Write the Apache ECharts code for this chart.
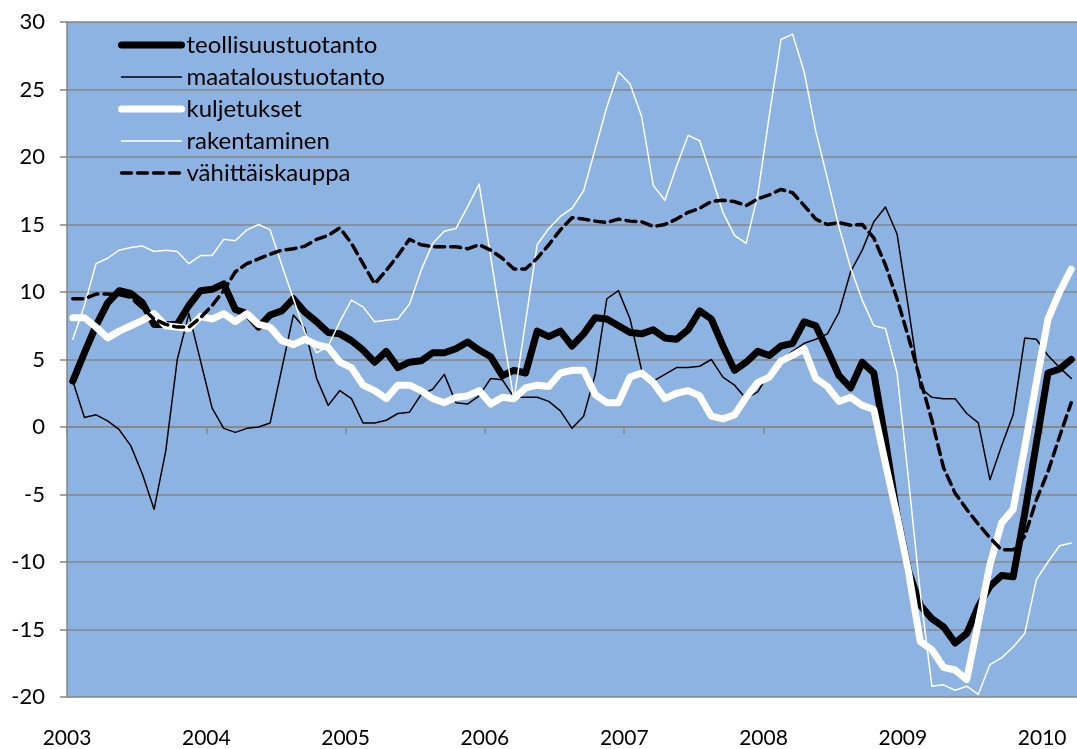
<!DOCTYPE html>
<html>
<head>
<meta charset="utf-8">
<script src="https://cdn.jsdelivr.net/npm/echarts@6/dist/echarts.min.js"></script>
<style>
  html, body { margin: 0; padding: 0; background: #fff; }
  #chart { width: 1077px; height: 749px; }
</style>
</head>
<body>
<div id="chart"></div>
<script>
// monthly series, Jan 2003 .. Mar 2010
const startYear = 2003;
const seriesNames = ['teollisuustuotanto', 'maataloustuotanto', 'kuljetukset', 'rakentaminen', 'vähittäiskauppa'];

const teollisuus = [3.4, 5.5, 7.5, 9.2, 10.1, 9.9, 9.2, 7.6, 7.6, 7.6, 9.0, 10.1,
  10.2, 10.6, 8.7, 8.4, 7.4, 8.3, 8.6, 9.5, 8.5, 7.8, 7.0, 6.9,
  6.4, 5.7, 4.8, 5.6, 4.4, 4.8, 4.9, 5.5, 5.5, 5.8, 6.3, 5.7,
  5.2, 3.8, 4.2, 4.0, 7.1, 6.7, 7.1, 6.0, 6.9, 8.1, 8.0, 7.5,
  7.0, 6.9, 7.2, 6.6, 6.5, 7.2, 8.6, 8.0, 6.0, 4.2, 4.8, 5.6,
  5.3, 6.0, 6.2, 7.8, 7.5, 5.7, 3.8, 2.9, 4.8, 4.0, -1.0, -6.5,
  -10.7, -13.2, -14.2, -14.8, -16.0, -15.3, -13.3, -11.8, -11.0, -11.1, -6.4, -1.2,
  4.0, 4.3, 5.0];

const maatalous = [3.4, 0.7, 0.9, 0.45, -0.2, -1.4, -3.5, -6.1, -1.8, 5.0, 8.4, 4.9,
  1.4, -0.1, -0.4, -0.1, 0.0, 0.3, 4.3, 8.3, 7.3, 3.6, 1.6, 2.7,
  2.1, 0.3, 0.3, 0.5, 1.0, 1.1, 2.4, 2.8, 3.9, 1.8, 1.7, 2.3,
  3.6, 3.5, 2.2, 2.2, 2.2, 1.9, 1.2, -0.1, 0.8, 3.9, 9.5, 10.1,
  8.0, 4.2, 3.4, 3.9, 4.4, 4.4, 4.5, 5.0, 3.7, 3.1, 2.1, 2.6,
  4.0, 5.0, 5.6, 6.2, 6.5, 6.9, 8.5, 11.5, 13.1, 15.2, 16.3, 14.3,
  8.7, 2.9, 2.2, 2.1, 2.1, 1.0, 0.3, -3.9, -1.4, 0.9, 6.6, 6.5,
  5.3, 4.4, 3.6];

const kuljetukset = [8.1, 8.1, 7.4, 6.6, 7.1, 7.5, 7.9, 8.4, 7.5, 7.4, 7.3, 8.2,
  8.0, 8.4, 7.8, 8.4, 7.6, 7.4, 6.4, 6.1, 6.5, 6.1, 5.9, 4.8,
  4.4, 3.1, 2.7, 2.1, 3.1, 3.1, 2.7, 2.1, 1.8, 2.2, 2.3, 2.7,
  1.7, 2.2, 2.1, 2.9, 3.1, 3.0, 4.0, 4.2, 4.2, 2.4, 1.8, 1.8,
  3.7, 4.0, 3.3, 2.1, 2.5, 2.7, 2.3, 0.8, 0.6, 0.9, 2.2, 3.3,
  3.7, 4.9, 5.3, 5.8, 3.6, 3.0, 1.9, 2.2, 1.6, 1.3, -2.7, -6.6,
  -10.8, -15.9, -16.5, -17.8, -18.0, -18.7, -14.5, -10.2, -7.1, -6.1, -1.5, 3.3,
  8.0, 10.0, 11.7];

const rakentaminen = [6.5, 9.0, 12.1, 12.5, 13.1, 13.3, 13.4, 13.0, 13.1, 13.0, 12.1, 12.7,
  12.7, 13.9, 13.8, 14.6, 15.0, 14.6, 12.0, 9.5, 7.0, 5.5, 6.0, 7.8,
  9.4, 8.9, 7.8, 7.9, 8.0, 9.1, 11.6, 13.6, 14.5, 14.7, 16.3, 18.0,
  12.6, 7.2, 2.0, 7.8, 13.5, 14.7, 15.6, 16.2, 17.5, 20.6, 23.7, 26.3,
  25.4, 23.0, 17.9, 16.8, 19.3, 21.6, 21.2, 18.6, 15.9, 14.2, 13.6, 17.2,
  23.1, 28.7, 29.1, 26.3, 21.9, 18.4, 14.8, 11.8, 9.4, 7.5, 7.3, 4.0,
  -4.0, -12.3, -19.2, -19.1, -19.5, -19.2, -19.8, -17.6, -17.1, -16.3, -15.3, -11.3,
  -10.0, -8.8, -8.6];

const vahittais = [9.5, 9.5, 9.85, 9.85, 9.8, 9.6, 8.8, 8.0, 7.6, 7.4, 7.4, 8.1,
  9.0, 10.1, 11.5, 12.1, 12.45, 12.8, 13.1, 13.2, 13.4, 13.9, 14.2, 14.75,
  13.6, 12.1, 10.6, 11.6, 12.7, 13.9, 13.5, 13.35, 13.35, 13.35, 13.2, 13.5,
  13.1, 12.5, 11.7, 11.7, 12.5, 13.5, 14.6, 15.5, 15.4, 15.25, 15.15, 15.4,
  15.25, 15.2, 14.85, 15.0, 15.4, 15.9, 16.2, 16.7, 16.8, 16.7, 16.4, 16.9,
  17.2, 17.6, 17.35, 16.4, 15.4, 15.0, 15.15, 14.95, 15.0, 14.0, 12.0, 9.5,
  6.6, 3.5, 0.5, -3.0, -4.9, -6.1, -7.2, -8.2, -9.1, -9.1, -8.1, -5.4,
  -3.3, -0.7, 1.8];

const font = 'Lato';
const axisGrey = '#868686';

// line look per series: colour, width, dash
const styles = [
    { color: '#000000', width: 7, type: 'solid' },
    { color: '#000000', width: 1.5, type: 'solid' },
    { color: '#ffffff', width: 7, type: 'solid' },
    { color: '#ffffff', width: 1.5, type: 'solid' },
    { color: '#000000', width: 3.5, type: [10, 6] }
];

// each month sits in the middle of its slot on the time axis
const toPoints = arr => arr.map((v, i) => [i + 0.5, v]);

const chart = echarts.init(document.getElementById('chart'));

const lineSeries = (idx, data) => ({
    name: seriesNames[idx],
    type: 'line',
    data: toPoints(data),
    symbol: 'none',
    smooth: false,
    animation: false,
    lineStyle: Object.assign({ cap: 'round', join: 'round' }, styles[idx]),
    itemStyle: { color: styles[idx].color }
});

const option = {
    backgroundColor: '#ffffff',
    animation: false,
    grid: {
        left: 67, right: -2, top: 22, bottom: 52,
        show: true, backgroundColor: '#8DB3E2', borderWidth: 0
    },
    legend: {
        orient: 'vertical',
        left: 118,
        top: 33,
        padding: 0,
        itemWidth: 60,
        itemHeight: 14,
        itemGap: 8,
        selectedMode: false,
        data: seriesNames.map((n, i) => ({
            name: n,
            itemStyle: { color: 'rgba(0,0,0,0)', borderWidth: 0, opacity: 0 },
            lineStyle: { color: styles[i].color, width: styles[i].width, type: styles[i].type, cap: 'round' }
        })),
        textStyle: { fontFamily: font, fontSize: 24, color: '#000', lineHeight: 24 }
    },
    xAxis: {
        type: 'value',
        min: 0,
        max: 87,
        interval: 12,
        axisLine: { show: true, lineStyle: { color: axisGrey, width: 1.5 } },
        axisTick: { show: true, length: 7, lineStyle: { color: axisGrey, width: 1.5 } },
        splitLine: { show: false },
        axisLabel: {
            margin: 31,
            showMaxLabel: false,
            fontFamily: font, fontSize: 21, color: '#000',
            formatter: v => String(startYear + v / 12)
        }
    },
    yAxis: {
        type: 'value',
        min: -20,
        max: 30,
        interval: 5,
        axisLine: { show: true, lineStyle: { color: axisGrey, width: 1.5 } },
        axisTick: { show: true, length: 7, inside: false, lineStyle: { color: axisGrey, width: 1.5 } },
        splitLine: { show: true, lineStyle: { color: axisGrey, width: 1.5 } },
        axisLabel: { margin: 22, fontFamily: font, fontSize: 22, color: '#000' }
    },
    series: [
        lineSeries(0, teollisuus),
        lineSeries(1, maatalous),
        lineSeries(2, kuljetukset),
        lineSeries(3, rakentaminen),
        lineSeries(4, vahittais)
    ]
};

chart.setOption(option);
</script>
</body>
</html>
